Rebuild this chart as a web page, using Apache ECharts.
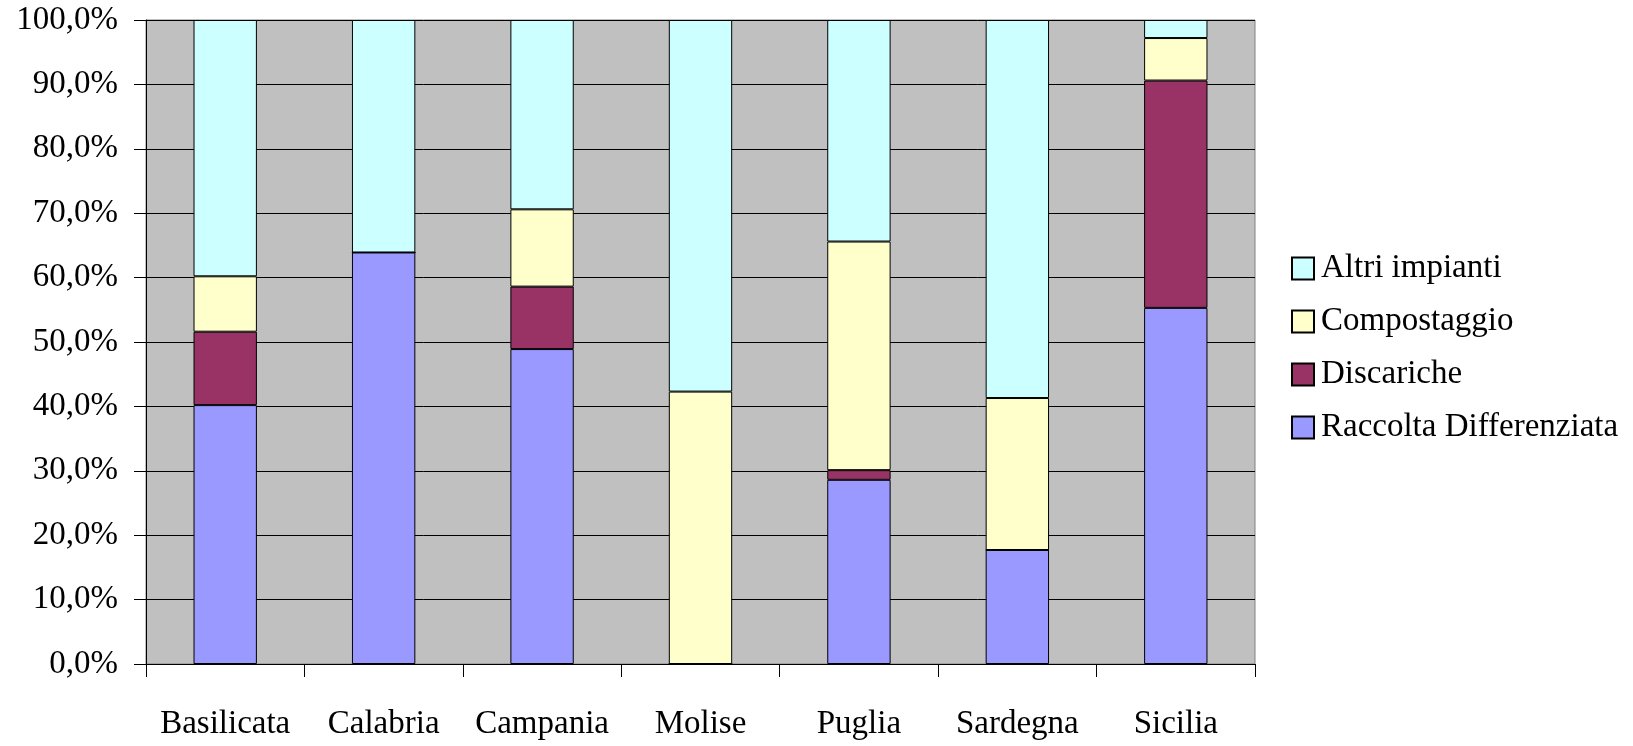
<!DOCTYPE html>
<html><head><meta charset="utf-8">
<script src="https://cdn.jsdelivr.net/npm/echarts@6/dist/echarts.min.js"></script>
<style>html,body{margin:0;padding:0;background:#fff}#c{width:1633px;height:746px}</style>
</head><body><div id="c"></div>
<script>
const categories = ['Basilicata','Calabria','Campania','Molise','Puglia','Sardegna','Sicilia'];
const raccolta = [40.2, 63.9, 48.9, 0, 28.6, 17.7, 55.3];
const discariche = [11.4, 0, 9.7, 0, 1.5, 0, 35.3];
const compostaggio = [8.6, 0, 12.0, 42.3, 35.5, 23.6, 6.6];
const altri = [39.8, 36.1, 29.4, 57.7, 34.4, 58.7, 2.8];
const legendOrder = ['Altri impianti','Compostaggio','Discariche','Raccolta Differenziata'];
const yTicks = {min: 0, max: 100, interval: 10};

const font = 'Liberation Serif';
const mk = (name, data, color) => ({
  name, type: 'bar', stack: 'tot', data, barWidth: '40%',
  itemStyle: {color, borderColor: '#000', borderWidth: 1},
  emphasis: {disabled: true}
});
const chart = echarts.init(document.getElementById('c'));
chart.setOption({
  animation: false,
  backgroundColor: '#fff',
  grid: {left: 146, right: 378, top: 20, bottom: 82, show: true, backgroundColor: '#C0C0C0', borderColor: '#808080', borderWidth: 1},
  legend: {
    data: legendOrder, orient: 'vertical', left: 1286, top: 247, padding: 5,
    itemWidth: 22, itemHeight: 22, itemGap: 20, icon: 'rect',
    textStyle: {fontFamily: font, fontSize: 33, color: '#000', padding: [0,0,0,2]}
  },
  xAxis: {
    type: 'category', data: categories,
    axisLine: {lineStyle: {color: '#000'}},
    axisTick: {show: true, interval: 0, length: 13, lineStyle: {color: '#000'}},
    axisLabel: {interval: 0, hideOverlap: false, fontFamily: font, fontSize: 33, color: '#000', margin: 44}
  },
  yAxis: {
    type: 'value', min: yTicks.min, max: yTicks.max, interval: yTicks.interval,
    axisLine: {show: true, lineStyle: {color: '#000'}},
    axisTick: {show: true, length: 12, lineStyle: {color: '#000'}},
    splitLine: {show: true, lineStyle: {color: '#000', width: 1}},
    axisLabel: {fontFamily: font, fontSize: 33, color: '#000', margin: 28,
      formatter: v => v.toFixed(1).replace('.', ',') + '%'}
  },
  series: [
    mk('Raccolta Differenziata', raccolta, '#9999FF'),
    mk('Discariche', discariche, '#993366'),
    mk('Compostaggio', compostaggio, '#FFFFCC'),
    mk('Altri impianti', altri, '#CCFFFF')
  ]
});
</script></body></html>
